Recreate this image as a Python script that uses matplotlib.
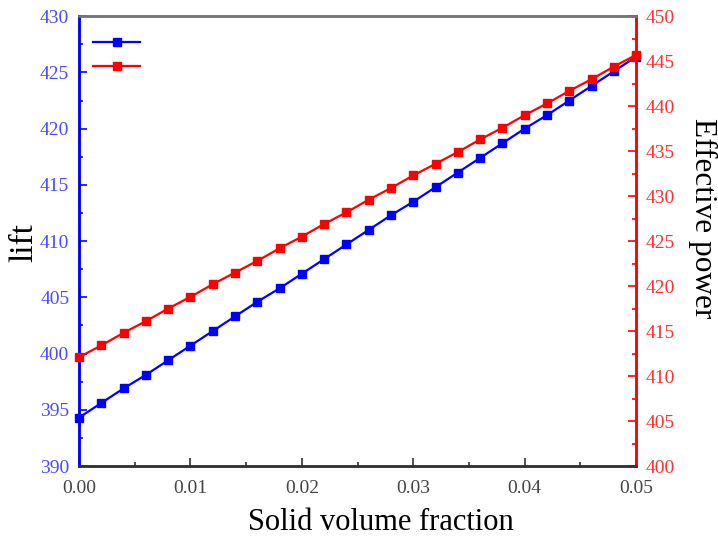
import matplotlib
matplotlib.use("Agg")
import matplotlib.pyplot as plt
from matplotlib.ticker import MultipleLocator

plt.rcParams['font.family'] = ['Liberation Serif', 'DejaVu Serif']

fraction = [0.000, 0.002, 0.004, 0.006, 0.008, 0.010, 0.012, 0.014, 0.016,
            0.018, 0.020, 0.022, 0.024, 0.026, 0.028, 0.030, 0.032, 0.034,
            0.036, 0.038, 0.040, 0.042, 0.044, 0.046, 0.048, 0.050]
lift = [394.3, 395.6, 396.9, 398.1, 399.4, 400.7, 402.0, 403.3, 404.6,
        405.8, 407.1, 408.4, 409.7, 411.0, 412.3, 413.5, 414.8, 416.1,
        417.4, 418.7, 420.0, 421.2, 422.5, 423.8, 425.1, 426.4]
power = [412.1, 413.4, 414.8, 416.1, 417.5, 418.8, 420.2, 421.5, 422.8,
         424.2, 425.5, 426.9, 428.2, 429.6, 430.9, 432.3, 433.6, 434.9,
         436.3, 437.6, 439.0, 440.3, 441.7, 443.0, 444.4, 445.7]
x_ticks = [0.00, 0.01, 0.02, 0.03, 0.04, 0.05]
lift_ticks = [390, 395, 400, 405, 410, 415, 420, 425, 430]
power_ticks = [400, 405, 410, 415, 420, 425, 430, 435, 440, 445, 450]

blue = '#0000ff'
red = '#ff0000'
blue_txt = '#4a4aff'
red_txt = '#ff3030'

fig = plt.figure(figsize=(7.18, 5.40), dpi=100)
ax = fig.add_axes([0.110, 0.137, 0.776, 0.833])
ax2 = ax.twinx()

l1, = ax.plot(fraction, lift, color=blue, marker='s', markersize=5.8,
              linewidth=1.6, clip_on=False, zorder=3)
l2, = ax2.plot(fraction, power, color=red, marker='s', markersize=5.8,
               linewidth=1.6, clip_on=False, zorder=3)

ax.set_xlim(0, 0.05)
ax.set_ylim(390, 430)
ax2.set_ylim(400, 450)

ax.set_xticks(x_ticks)
ax.set_xticklabels([f'{v:.2f}' for v in x_ticks])
ax.xaxis.set_minor_locator(MultipleLocator(0.005))
ax.set_yticks(lift_ticks)
ax.yaxis.set_minor_locator(MultipleLocator(2.5))
ax2.set_yticks(power_ticks)
ax2.yaxis.set_minor_locator(MultipleLocator(2.5))

ax.tick_params(axis='x', which='both', direction='in', colors='#333333',
               labelsize=14, labelcolor='#444444', width=1.2, pad=10)
ax.tick_params(axis='x', which='major', length=6)
ax.tick_params(axis='x', which='minor', length=3)
ax.tick_params(axis='y', which='both', direction='in', colors=blue,
               labelcolor=blue_txt, labelsize=14, width=1.2, pad=7)
ax.tick_params(axis='y', which='major', length=6)
ax.tick_params(axis='y', which='minor', length=3)
ax2.tick_params(axis='y', which='both', direction='in', colors=red,
                labelcolor=red_txt, labelsize=14, width=1.2, pad=7)
ax2.tick_params(axis='y', which='major', length=6)
ax2.tick_params(axis='y', which='minor', length=3)

for a in (ax, ax2):
    a.spines['left'].set_color(blue)
    a.spines['right'].set_color(red)
    a.spines['top'].set_color('#777777')
    a.spines['bottom'].set_color('#333333')
    for s in a.spines.values():
        s.set_linewidth(1.8)

fig.text(381 / 718, 10 / 540, 'Solid volume fraction', fontsize=22,
         ha='center', va='baseline')
fig.text(24 / 718, 1 - 242 / 540, 'lift', fontsize=24, rotation=90,
         ha='center', va='center')
fig.text(703 / 718, 1 - 218 / 540, 'Effective power', fontsize=22.5,
         rotation=270, ha='center', va='center')

ax.legend([l1, l2], ['', ''], loc='upper left', frameon=False,
          handlelength=3.4, bbox_to_anchor=(0.015, 0.966), borderaxespad=0,
          labelspacing=0.75, markerscale=0.9)

fig.savefig('out.png', dpi=100)
